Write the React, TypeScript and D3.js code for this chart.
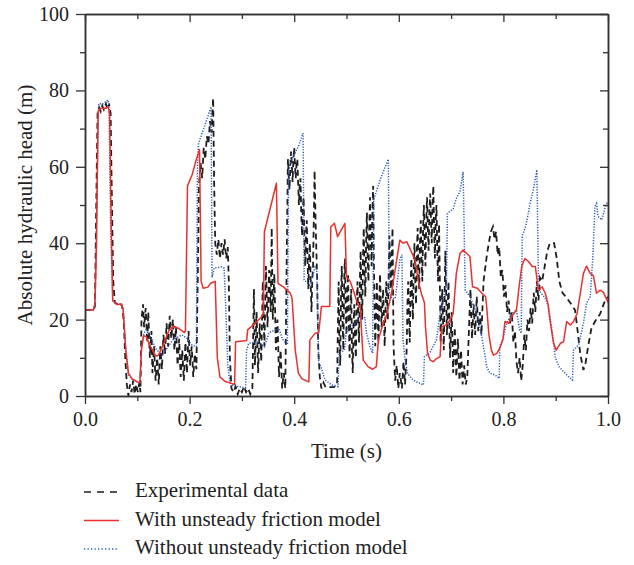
import * as d3 from "d3";
import { useEffect, useRef } from "react";

// time (s), absolute hydraulic head (m)
const experimental: [number, number][] = [
  [0, 22.5], [0.016, 22.5], [0.019, 23.5], [0.021, 45], [0.024, 74], [0.027, 75.5], [0.03, 74.5],
  [0.033, 76], [0.036, 75], [0.04, 76.5], [0.043, 75], [0.046, 76.5], [0.049, 74], [0.051, 55],
  [0.054, 30], [0.057, 24.5], [0.062, 24], [0.066, 24.5], [0.071, 23.5], [0.074, 20], [0.077, 10],
  [0.08, 3], [0.083, 0], [0.086, 3], [0.089, 1], [0.092, 4], [0.095, 0.5], [0.098, 3], [0.101, 1],
  [0.104, 3.5], [0.106, 1], [0.108, 20], [0.111, 24], [0.113, 18], [0.116, 23], [0.119, 14],
  [0.121, 22], [0.124, 10], [0.127, 17], [0.129, 6], [0.132, 13], [0.135, 4], [0.138, 10],
  [0.141, 3], [0.144, 13], [0.147, 7], [0.15, 16], [0.153, 11], [0.156, 19], [0.159, 13],
  [0.162, 21], [0.165, 15], [0.168, 20], [0.171, 12], [0.174, 18], [0.177, 8], [0.18, 15],
  [0.183, 5], [0.186, 12], [0.189, 4], [0.192, 14], [0.195, 6], [0.198, 17], [0.201, 8],
  [0.204, 13], [0.207, 5], [0.21, 11], [0.213, 7], [0.216, 35], [0.218, 55], [0.221, 61],
  [0.224, 57], [0.227, 65], [0.23, 62], [0.233, 68], [0.236, 66], [0.239, 72], [0.242, 69],
  [0.245, 78], [0.247, 55], [0.249, 40], [0.252, 37], [0.255, 41], [0.258, 36], [0.261, 40],
  [0.264, 37], [0.267, 41], [0.27, 36], [0.273, 39], [0.275, 30], [0.277, 10], [0.28, 2],
  [0.284, 1], [0.288, 2.5], [0.292, 0.5], [0.296, 2], [0.3, 1], [0.304, 2.5], [0.308, 1],
  [0.312, 2], [0.316, 0.5], [0.32, 2], [0.323, 28], [0.325, 8], [0.328, 22], [0.331, 6],
  [0.334, 19], [0.337, 9], [0.34, 30], [0.343, 13], [0.346, 34], [0.349, 18], [0.352, 33],
  [0.355, 22], [0.357, 44], [0.359, 20], [0.362, 32], [0.365, 12], [0.368, 20], [0.371, 5],
  [0.374, 12], [0.377, 2], [0.38, 6], [0.383, 2], [0.386, 40], [0.388, 62], [0.3895, 58],
  [0.391, 54], [0.3925, 60], [0.394, 64], [0.3955, 60], [0.397, 56], [0.3985, 62], [0.4, 65],
  [0.4015, 60], [0.403, 57], [0.4045, 61], [0.406, 62], [0.4075, 56], [0.409, 50], [0.4105, 55],
  [0.412, 57], [0.4135, 48], [0.415, 42], [0.4165, 49], [0.418, 52], [0.4195, 42], [0.421, 34],
  [0.4225, 42], [0.424, 46], [0.4255, 36], [0.427, 28], [0.4285, 36], [0.43, 40], [0.4315, 30],
  [0.433, 22], [0.4345, 30], [0.436, 34], [0.439, 59], [0.441, 45], [0.444, 30], [0.446, 12],
  [0.449, 5], [0.452, 2], [0.456, 3.5], [0.46, 2.3], [0.468, 2.3], [0.476, 2.3], [0.482, 3],
  [0.4835, 18], [0.485, 30], [0.4865, 14], [0.488, 8], [0.4895, 26], [0.491, 34], [0.4925, 20],
  [0.494, 12], [0.4955, 30], [0.497, 36], [0.4985, 22], [0.5, 16], [0.5015, 28], [0.503, 32],
  [0.5045, 18], [0.506, 10], [0.5075, 22], [0.509, 28], [0.5105, 12], [0.512, 6], [0.5135, 18],
  [0.515, 24], [0.5165, 14], [0.518, 10], [0.5195, 24], [0.521, 30], [0.5225, 20], [0.524, 14],
  [0.5255, 30], [0.527, 38], [0.5285, 26], [0.53, 20], [0.5315, 36], [0.533, 44], [0.5345, 32],
  [0.536, 26], [0.5375, 40], [0.539, 48], [0.5405, 36], [0.542, 30], [0.5435, 44], [0.545, 52],
  [0.5465, 40], [0.548, 34], [0.5495, 48], [0.551, 55], [0.552, 40], [0.553, 28], [0.555, 13],
  [0.558, 30], [0.561, 14], [0.564, 32], [0.567, 18], [0.57, 28], [0.573, 13], [0.576, 30],
  [0.579, 20], [0.582, 42], [0.585, 28], [0.588, 44], [0.59, 13], [0.593, 4], [0.596, 8],
  [0.599, 2], [0.602, 6], [0.606, 2], [0.609, 9], [0.612, 3], [0.615, 12], [0.6165, 24],
  [0.618, 30], [0.6195, 20], [0.621, 14], [0.6225, 28], [0.624, 36], [0.6255, 26], [0.627, 20],
  [0.6285, 34], [0.63, 40], [0.6315, 30], [0.633, 24], [0.6345, 38], [0.636, 44], [0.6375, 34],
  [0.639, 28], [0.6405, 40], [0.642, 46], [0.6435, 36], [0.645, 30], [0.6465, 44], [0.648, 50],
  [0.6495, 40], [0.651, 34], [0.6525, 46], [0.654, 52], [0.6555, 44], [0.657, 38], [0.6585, 48],
  [0.66, 53], [0.6615, 46], [0.663, 40], [0.6645, 50], [0.666, 55], [0.6675, 44], [0.669, 36],
  [0.6705, 46], [0.672, 50], [0.6735, 38], [0.675, 30], [0.677, 45], [0.68, 14], [0.683, 28],
  [0.686, 12], [0.689, 38], [0.692, 16], [0.695, 30], [0.698, 10], [0.701, 22], [0.704, 6],
  [0.707, 18], [0.71, 5], [0.713, 15], [0.716, 4], [0.719, 12], [0.722, 3], [0.725, 8],
  [0.728, 3], [0.731, 5], [0.734, 17], [0.737, 28], [0.74, 15], [0.743, 24], [0.746, 16],
  [0.749, 26], [0.752, 17], [0.755, 22], [0.758, 16], [0.762, 30], [0.768, 36.5], [0.772, 40],
  [0.776, 43], [0.78, 44.3], [0.783, 41], [0.786, 43], [0.789, 37], [0.792, 39], [0.795, 31],
  [0.798, 33], [0.801, 26], [0.804, 29], [0.807, 22], [0.81, 25], [0.813, 19], [0.816, 22],
  [0.819, 14], [0.822, 17], [0.825, 9], [0.828, 6], [0.831, 10], [0.834, 4], [0.837, 8],
  [0.84, 16], [0.843, 12], [0.846, 20], [0.849, 17], [0.852, 23], [0.855, 19], [0.858, 27],
  [0.861, 22], [0.864, 30], [0.867, 25], [0.87, 31], [0.874, 30], [0.879, 34], [0.884, 38],
  [0.889, 40], [0.897, 40], [0.902, 36], [0.907, 30], [0.913, 27], [0.922, 25.5], [0.93, 24],
  [0.937, 22.5], [0.942, 17], [0.947, 11], [0.953, 6.8], [0.957, 8.5], [0.962, 13], [0.968, 17.5],
  [0.975, 19.5], [0.985, 21.5], [0.993, 24.5], [1, 26],
];

const withFriction: [number, number][] = [
  [0, 22.5], [0.016, 22.5], [0.019, 24], [0.022, 40], [0.025, 74.5], [0.03, 75.3], [0.04, 75.3],
  [0.044, 75.8], [0.047, 74], [0.05, 45], [0.053, 25], [0.06, 24], [0.07, 24], [0.073, 22.5],
  [0.078, 12], [0.083, 6], [0.09, 4.5], [0.1, 3.7], [0.105, 3.5], [0.108, 12], [0.112, 15.8],
  [0.117, 15.5], [0.125, 13], [0.135, 10.5], [0.14, 10.6], [0.15, 13.5], [0.16, 17], [0.17, 18.3],
  [0.18, 17.6], [0.19, 16.6], [0.192, 17], [0.196, 55], [0.205, 58], [0.213, 62], [0.219, 64.5],
  [0.222, 30], [0.226, 28.2], [0.235, 28.5], [0.24, 29.5], [0.249, 30], [0.253, 10], [0.258, 5],
  [0.268, 3.8], [0.28, 3.3], [0.286, 3], [0.288, 14.2], [0.309, 14.5], [0.311, 17.3],
  [0.325, 19], [0.338, 20.8], [0.341, 21.5], [0.343, 43], [0.366, 55.7], [0.369, 29.5],
  [0.38, 28.5], [0.392, 27], [0.396, 25.5], [0.402, 12], [0.408, 6], [0.415, 4.5], [0.428, 3.7],
  [0.43, 14.7], [0.44, 16.4], [0.447, 16.6], [0.452, 23.4], [0.468, 23.4], [0.47, 44.3],
  [0.477, 45.2], [0.483, 41.7], [0.49, 43.5], [0.497, 45.2], [0.5, 31.2], [0.507, 30],
  [0.513, 27.7], [0.522, 23.8], [0.526, 23.5], [0.532, 9.4], [0.541, 7.7], [0.55, 7],
  [0.557, 7.7], [0.561, 14.7], [0.57, 19], [0.576, 20.8], [0.586, 26.9], [0.596, 35.6],
  [0.602, 40.8], [0.608, 40], [0.615, 40.4], [0.619, 39.3], [0.631, 35.6], [0.637, 30.4],
  [0.643, 26.9], [0.649, 24.4], [0.651, 18.1], [0.655, 11.2], [0.66, 9.4], [0.666, 9],
  [0.672, 9.8], [0.679, 10.3], [0.682, 18.1], [0.691, 18.6], [0.698, 19.9], [0.704, 21.6],
  [0.71, 32.1], [0.717, 37.3], [0.723, 38.2], [0.73, 37.3], [0.736, 36.5], [0.741, 28.6],
  [0.75, 28.2], [0.759, 26.9], [0.766, 26], [0.768, 23.4], [0.772, 16.4], [0.777, 12],
  [0.781, 10.7], [0.787, 11.1], [0.793, 12.5], [0.799, 14.7], [0.803, 19.5], [0.81, 19],
  [0.816, 20.8], [0.825, 22.5], [0.83, 28.6], [0.835, 33.9], [0.841, 36], [0.848, 35.2],
  [0.855, 33.9], [0.861, 33.9], [0.867, 27.7], [0.874, 28.6], [0.88, 26.9], [0.885, 24.3],
  [0.89, 19], [0.896, 13.8], [0.901, 12], [0.909, 13.8], [0.915, 14.2], [0.921, 19.5],
  [0.928, 18.6], [0.934, 19.5], [0.941, 21.6], [0.947, 26.9], [0.953, 32.1], [0.959, 34],
  [0.966, 32.1], [0.972, 31.5], [0.978, 26.9], [0.985, 27.7], [0.991, 27.2], [0.998, 25.1],
  [1, 24.5],
];

const withoutFriction: [number, number][] = [
  [0, 22.5], [0.016, 22.5], [0.019, 24], [0.022, 45], [0.026, 76.5], [0.035, 76.5], [0.044, 77.5],
  [0.046, 76], [0.049, 45], [0.053, 25], [0.06, 24], [0.07, 24], [0.073, 22.5], [0.078, 12],
  [0.083, 5.5], [0.09, 4.5], [0.1, 3.7], [0.105, 3.5], [0.108, 13], [0.113, 16.5], [0.117, 17.3],
  [0.125, 15.5], [0.135, 12.5], [0.143, 11.2], [0.148, 10.8], [0.157, 12.5], [0.168, 14.7],
  [0.185, 16], [0.195, 15.1], [0.204, 13.4], [0.213, 12.9], [0.215, 60], [0.217, 66],
  [0.241, 75.7], [0.243, 31], [0.247, 33.5], [0.26, 33.8], [0.266, 33.5], [0.27, 20], [0.273, 8],
  [0.277, 3.5], [0.285, 2.6], [0.3, 2.3], [0.307, 2.2], [0.309, 12], [0.313, 13.8], [0.33, 14.2],
  [0.343, 12.9], [0.352, 16.6], [0.371, 17.7], [0.377, 15], [0.387, 13.4], [0.389, 58],
  [0.395, 62], [0.408, 65.3], [0.417, 68.8], [0.419, 30.4], [0.43, 29], [0.44, 33.8],
  [0.443, 33], [0.447, 8.6], [0.451, 7.7], [0.459, 4.2], [0.472, 2.9], [0.484, 2.5],
  [0.486, 11.2], [0.496, 12], [0.5, 17.3], [0.516, 19], [0.526, 20.8], [0.535, 20.5],
  [0.538, 16.6], [0.545, 12.9], [0.55, 11.2], [0.552, 51.3], [0.564, 56.5], [0.574, 60],
  [0.58, 62], [0.582, 26.9], [0.587, 25.5], [0.593, 25.5], [0.596, 28.6], [0.602, 35.6],
  [0.606, 37], [0.608, 14.7], [0.612, 9.4], [0.617, 5.9], [0.627, 4.2], [0.64, 3.3],
  [0.647, 2.9], [0.649, 10.3], [0.659, 11.2], [0.672, 14.7], [0.679, 21.6], [0.685, 25.5],
  [0.691, 28.6], [0.693, 47.8], [0.704, 49], [0.71, 51.7], [0.717, 53.5], [0.723, 58.7],
  [0.727, 27.7], [0.736, 26], [0.749, 21.6], [0.755, 18.1], [0.762, 12.9], [0.768, 7.7],
  [0.774, 6], [0.784, 5.5], [0.792, 4.6], [0.793, 12.9], [0.8, 15.4], [0.806, 19],
  [0.816, 21.6], [0.825, 22.5], [0.831, 17.3], [0.834, 16.4], [0.836, 41.7], [0.844, 45.2],
  [0.851, 50.4], [0.857, 53.9], [0.864, 59.2], [0.867, 30.4], [0.87, 27.3], [0.88, 25.6],
  [0.886, 23.4], [0.892, 18.1], [0.899, 10.3], [0.906, 7.7], [0.915, 6.4], [0.925, 5],
  [0.932, 4.2], [0.934, 12], [0.944, 13.4], [0.953, 19], [0.959, 24.3], [0.966, 26],
  [0.971, 36.5], [0.975, 49.6], [0.978, 50.4], [0.981, 47], [0.988, 46.1], [0.994, 49.1],
  [0.998, 50.4], [1, 50],
];

const xMajor = [0, 0.2, 0.4, 0.6, 0.8, 1.0];
const xMinor = [0.1, 0.3, 0.5, 0.7, 0.9];
const yMajor = [0, 20, 40, 60, 80, 100];
const yMinor = [10, 30, 50, 70, 90];

const legendItems = [
  { label: "Experimental data", color: "#1e1e1e", dash: "7,6", width: 1.6 },
  { label: "With unsteady friction model", color: "#e8302c", dash: null, width: 1.5 },
  { label: "Without unsteady friction model", color: "#2a5bbd", dash: "1.3,2.2", width: 1.5 },
];

const W = 634;
const H = 565;
const margin = { left: 85, top: 14, right: 26, bottom: 169 };
const FONT = "'Liberation Serif', 'Times New Roman', serif";

export default function App() {
  const svgRef = useRef<SVGSVGElement | null>(null);

  useEffect(() => {
    const svgEl = d3.select(svgRef.current);
    svgEl.selectAll("*").remove();
    const width = W - margin.left - margin.right;
    const height = H - margin.top - margin.bottom;
    const svg = svgEl.append("g").attr("transform", `translate(${margin.left},${margin.top})`);

    const x = d3.scaleLinear().domain([0, 1]).range([0, width]);
    const y = d3.scaleLinear().domain([0, 100]).range([height, 0]);

    const line = d3
      .line<[number, number]>()
      .x((d) => x(d[0]))
      .y((d) => y(d[1]));

    // series
    svg.append("path").datum(experimental)
      .attr("d", line).attr("fill", "none")
      .attr("stroke", legendItems[0].color).attr("stroke-width", 1.8)
      .attr("stroke-dasharray", "6,4");
    svg.append("path").datum(withoutFriction)
      .attr("d", line).attr("fill", "none")
      .attr("stroke", legendItems[2].color).attr("stroke-width", 1.5)
      .attr("stroke-dasharray", "1.2,1.5");
    svg.append("path").datum(withFriction)
      .attr("d", line).attr("fill", "none")
      .attr("stroke", legendItems[1].color).attr("stroke-width", 1.5)
      .attr("stroke-linejoin", "round");

    const axisColor = "#333";
    const styleAxis = (g: any, labels: boolean) => {
      g.attr("font-family", FONT).attr("font-size", 20);
      g.select(".domain").attr("stroke", axisColor).attr("stroke-width", 1.5);
      g.selectAll(".tick line").attr("stroke", axisColor).attr("stroke-width", 1.3);
      g.selectAll(".tick text").attr("fill", "#222");
      if (!labels) g.selectAll(".tick text").remove();
    };

    // bottom
    svg.append("g").attr("transform", `translate(0,${height})`)
      .call(d3.axisBottom(x).tickValues(xMinor).tickSize(5).tickSizeOuter(0).tickFormat(() => ""))
      .call((g: any) => styleAxis(g, false));
    svg.append("g").attr("transform", `translate(0,${height})`)
      .call(d3.axisBottom(x).tickValues(xMajor).tickSize(8).tickSizeOuter(0).tickPadding(8)
        .tickFormat(d3.format(".1f")))
      .call((g: any) => styleAxis(g, true));
    // top
    svg.append("g")
      .call(d3.axisTop(x).tickValues(xMinor).tickSize(-5).tickSizeOuter(0).tickFormat(() => ""))
      .call((g: any) => styleAxis(g, false));
    svg.append("g")
      .call(d3.axisTop(x).tickValues(xMajor).tickSize(-8).tickSizeOuter(0).tickFormat(() => ""))
      .call((g: any) => styleAxis(g, false));
    // left
    svg.append("g")
      .call(d3.axisLeft(y).tickValues(yMinor).tickSize(5).tickSizeOuter(0).tickFormat(() => ""))
      .call((g: any) => styleAxis(g, false));
    svg.append("g")
      .call(d3.axisLeft(y).tickValues(yMajor).tickSize(9).tickSizeOuter(0).tickPadding(7)
        .tickFormat(d3.format("d")))
      .call((g: any) => styleAxis(g, true));
    // right
    svg.append("g").attr("transform", `translate(${width},0)`)
      .call(d3.axisRight(y).tickValues(yMinor).tickSize(-5).tickSizeOuter(0).tickFormat(() => ""))
      .call((g: any) => styleAxis(g, false));
    svg.append("g").attr("transform", `translate(${width},0)`)
      .call(d3.axisRight(y).tickValues(yMajor).tickSize(-8).tickSizeOuter(0).tickFormat(() => ""))
      .call((g: any) => styleAxis(g, false));

    // axis titles
    svg.append("text")
      .attr("x", width / 2).attr("y", height + 62)
      .attr("text-anchor", "middle")
      .attr("font-family", FONT).attr("font-size", 21).attr("fill", "#222")
      .text("Time (s)");
    svg.append("text")
      .attr("transform", `translate(${32 - margin.left},${height / 2}) rotate(-90)`)
      .attr("text-anchor", "middle")
      .attr("font-family", FONT).attr("font-size", 21).attr("fill", "#222")
      .text("Absolute hydraulic head (m)");

    // legend
    const legend = svgEl.append("g").attr("transform", "translate(84,492)");
    legendItems.forEach((item, i) => {
      const row = legend.append("g").attr("transform", `translate(0,${i * 28.5})`);
      row.append("line")
        .attr("x1", 0).attr("x2", 35).attr("y1", 0).attr("y2", 0)
        .attr("stroke", item.color).attr("stroke-width", item.width)
        .attr("stroke-dasharray", item.dash ?? null);
      row.append("text")
        .attr("x", 51).attr("y", 5)
        .attr("font-family", FONT).attr("font-size", 21).attr("fill", "#222")
        .text(item.label);
    });
  }, []);

  return (
    <svg
      ref={svgRef}
      width={W}
      height={H}
      style={{ position: "absolute", left: 0, top: 0, background: "#fff" }}
    />
  );
}
